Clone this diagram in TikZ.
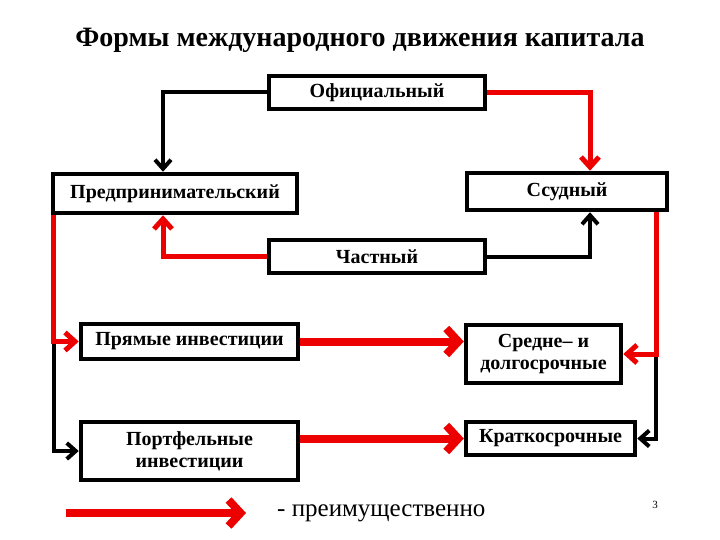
\documentclass[tikz,border=0pt]{standalone}
\usepackage{fontspec}
\setmainfont{Liberation Serif}
\usetikzlibrary{arrows.meta,positioning}
\definecolor{FRed}{RGB}{236,0,0}

\begin{document}
\begin{tikzpicture}[x=1pt,y=-1pt,
  formbox/.style={draw,line width=4.5pt,inner sep=2pt,align=center,
    font=\bfseries\fontsize{20}{22}\selectfont},
  blkline/.style={line width=4pt,-{Straight Barb[length=9pt,width=16pt]}},
  redline/.style={draw=FRed,line width=5pt,-{Straight Barb[length=10pt,width=18pt]}},
  redmain/.style={draw=FRed,line width=8pt,-{Straight Barb[length=12pt,width=26pt]}}
]
\useasboundingbox (0,0) rectangle (720,540);

% title
\node[font=\bfseries\fontsize{28}{32}\selectfont] (title) at (360,40)
  {Формы международного движения капитала};

% boxes
\node[formbox,minimum width=216pt,minimum height=33pt] (ofic) at (377,92.5) {Официальный};
\node[formbox,minimum width=244pt,minimum height=39pt] (pred) at (175,193.5) {Предпринимательский};
\node[formbox,minimum width=200pt,minimum height=37pt] (ssud) at (567,191.5) {Ссудный};
\node[formbox,minimum width=216pt,minimum height=33pt] (chast) at (377,256.5) {Частный};
\node[formbox,minimum width=217pt,minimum height=35pt] (pryam) at (189.5,341.5) {Прямые инвестиции};
\node[formbox,minimum width=155pt,minimum height=58pt] (sredne) at (543.5,354) {Средне– и\\долгосрочные};
\node[formbox,minimum width=217pt,minimum height=58pt] (portf) at (189.5,451) {Портфельные\\инвестиции};
\node[formbox,minimum width=169pt,minimum height=33pt] (kratk) at (550.5,438.5) {Краткосрочные};

% upper ring
\draw[blkline] (ofic.west) -| ([xshift=-12pt]pred.north);
\draw[redline] (ofic.east) -| ([xshift=23pt]ssud.north);
\draw[redline] (chast.west) -| ([xshift=-12pt]pred.south);
\draw[blkline] (chast.east) -| ([xshift=23pt]ssud.south);

% left branch
\coordinate (lj) at ([xshift=3pt]pred.south west |- pryam.west);
\draw[blkline] (lj) |- (portf.west);
\draw[redline] ([xshift=3pt]pred.south west) |- (pryam.west);

% right branch
\coordinate (rj) at ([xshift=-13pt]ssud.south east |- sredne.east);
\draw[blkline] (rj) |- (kratk.east);
\draw[redline] ([xshift=-13pt]ssud.south east) |- (sredne.east);

% main red arrows
\draw[redmain] (pryam.east) -- (sredne.west |- pryam.east);
\draw[redmain] (portf.east |- kratk.west) -- (kratk.west);

% legend
\node[anchor=west,inner sep=0pt,font=\fontsize{25}{28}\selectfont] (legtext) at (277,513) {- преимущественно};
\coordinate (legstart) at (66,513);
\draw[redmain] (legstart) -- ([xshift=-31pt]legtext.west);

% page number
\node[font=\fontsize{11}{13}\selectfont] (pagenum) at (655,505) {3};
\end{tikzpicture}
\end{document}
